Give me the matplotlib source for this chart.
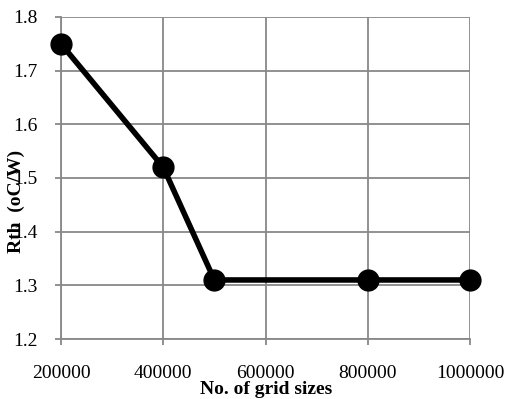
import matplotlib
matplotlib.use("Agg")
import matplotlib.pyplot as plt

grid_sizes = [200000, 400000, 500000, 800000, 1000000]
rth = [1.75, 1.52, 1.31, 1.31, 1.31]
x_ticks = [200000, 400000, 600000, 800000, 1000000]
y_ticks = [1.2, 1.3, 1.4, 1.5, 1.6, 1.7, 1.8]

plt.rcParams['font.family'] = ['Liberation Serif', 'DejaVu Serif']

fig = plt.figure(figsize=(5.06, 3.99), dpi=100)
ax = fig.add_axes([61/506, 1 - 339/399, (470-61)/506, (339-17)/399])

ax.plot(grid_sizes, rth, color='black', lw=4.0, marker='o', markersize=15,
        zorder=3, clip_on=False)

ax.set_xlim(200000, 1000000)
ax.set_ylim(1.2, 1.8)
ax.set_xticks(x_ticks)
ax.set_xticklabels([str(v) for v in x_ticks])
ax.set_yticks(y_ticks)
ax.set_yticklabels([f"{v:.1f}" for v in y_ticks])

gc = '#888888'
ax.grid(True, color=gc, lw=1.3)
ax.set_axisbelow(True)
for s in ['top', 'right']:
    ax.spines[s].set_visible(False)
for s in ['left', 'bottom']:
    ax.spines[s].set_color(gc)
    ax.spines[s].set_linewidth(1.3)
ax.tick_params(axis='both', colors=gc, labelcolor='black', labelsize=14,
               length=4, width=1.3, direction='out')
ax.tick_params(axis='x', pad=15)
ax.tick_params(axis='y', pad=13)

fig.text(266/506, 1 - 389/399, 'No. of grid sizes', ha='center', va='center',
         fontsize=14, fontweight='bold')
fig.text(16/506, 1 - 201/399, 'Rth  (oC/W)', ha='center', va='center',
         rotation=90, fontsize=14, fontweight='bold')

fig.savefig('out.png', dpi=100)
